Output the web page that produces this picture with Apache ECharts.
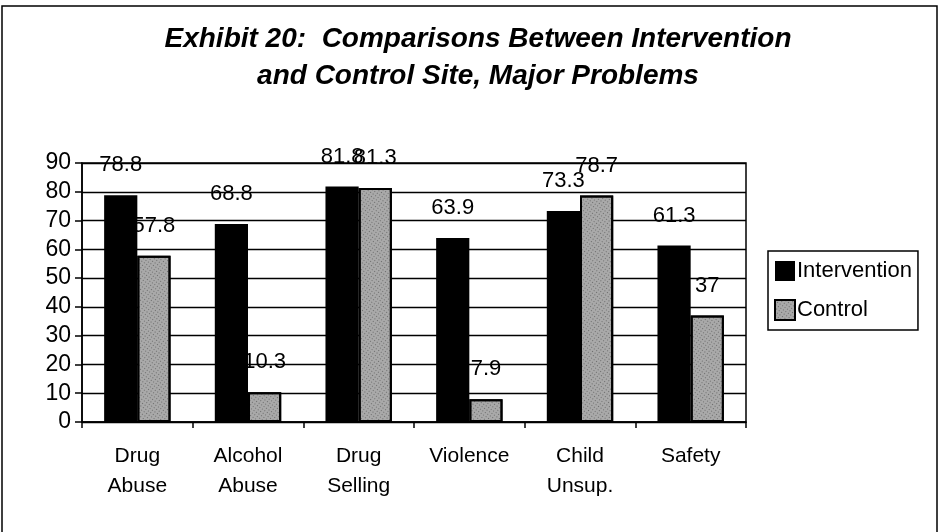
<!DOCTYPE html>
<html>
<head>
<meta charset="utf-8">
<script src="https://cdn.jsdelivr.net/npm/echarts@6/dist/echarts.min.js"></script>
<style>
  html, body { margin: 0; padding: 0; background: #fff; }
  #chart { width: 940px; height: 532px; }
</style>
</head>
<body>
<div id="chart"></div>
<script>
  // data
  const categories = ['Drug\nAbuse', 'Alcohol\nAbuse', 'Drug\nSelling', 'Violence', 'Child\nUnsup.', 'Safety']
  const intervention = [78.8, 68.8, 81.8, 63.9, 73.3, 61.3]
  const control = [57.8, 10.3, 81.3, 7.9, 78.7, 37]
  const yTicks = [0, 10, 20, 30, 40, 50, 60, 70, 80, 90]

  const font = 'Arial, "Liberation Sans", sans-serif'
  const myChart = echarts.init(document.getElementById('chart'))

  const valueLabel = {
    show: true,
    position: 'top',
    distance: 19,
    color: '#000',
    fontSize: 22,
    fontFamily: font
  }

  myChart.setOption({
    animation: false,
    backgroundColor: '#fff',
    aria: { enabled: true, decal: { show: true } },
    textStyle: { fontFamily: font },
    title: {
      text: 'Exhibit 20:  Comparisons Between Intervention\nand Control Site, Major Problems',
      left: 473,
      top: 16,
      textAlign: 'center',
      textStyle: {
        fontSize: 28,
        fontWeight: 'bold',
        fontStyle: 'italic',
        lineHeight: 37,
        color: '#000',
        fontFamily: font
      }
    },
    graphic: [
      {
        type: 'rect',
        shape: { x: 2, y: 6, width: 935, height: 540 },
        style: { fill: 'none', stroke: '#000', lineWidth: 1.5 },
        silent: true
      }
    ],
    legend: {
      orient: 'vertical',
      left: 768,
      top: 251,
      padding: [9, 6, 9, 6],
      borderColor: '#000',
      borderWidth: 1.5,
      itemWidth: 20,
      itemHeight: 20,
      itemGap: 17,
      icon: 'rect',
      textStyle: { fontSize: 22, color: '#000', fontFamily: font, padding: [0, 0, 0, -3] },
      data: ['Intervention', 'Control']
    },
    grid: {
      left: 82,
      right: 194,
      top: 163,
      bottom: 110,
      show: true,
      borderColor: '#000',
      borderWidth: 1.5
    },
    xAxis: {
      type: 'category',
      data: categories,
      axisLine: { lineStyle: { color: '#000', width: 1.5 } },
      axisTick: { show: true, length: 6, lineStyle: { color: '#000', width: 1.5 } },
      axisLabel: {
        color: '#000',
        fontSize: 21,
        lineHeight: 30,
        margin: 19,
        interval: 0
      }
    },
    yAxis: {
      type: 'value',
      min: yTicks[0],
      max: yTicks[yTicks.length - 1],
      interval: 10,
      axisLine: { show: true, lineStyle: { color: '#000', width: 1.5 } },
      axisTick: { show: true, length: 7, lineStyle: { color: '#000', width: 1.5 } },
      axisLabel: { color: '#000', fontSize: 23, margin: 11 },
      splitLine: { lineStyle: { color: '#000', width: 1.3 } }
    },
    series: [
      {
        name: 'Intervention',
        type: 'bar',
        z: 3,
        data: intervention,
        barGap: '0%',
        barCategoryGap: '40%',
        itemStyle: { color: '#000', decal: { symbol: 'none' } },
        label: valueLabel
      },
      {
        name: 'Control',
        type: 'bar',
        z: 2,
        data: control,
        itemStyle: {
          color: '#a9a9a9',
          borderColor: '#000',
          borderWidth: 2,
          decal: {
            symbol: 'rect',
            symbolSize: 0.8,
            dashArrayX: [1, 2],
            dashArrayY: [1, 2],
            rotation: 0.6,
            color: 'rgba(30,30,30,0.55)'
          }
        },
        label: valueLabel
      }
    ]
  })
</script>
</body>
</html>
